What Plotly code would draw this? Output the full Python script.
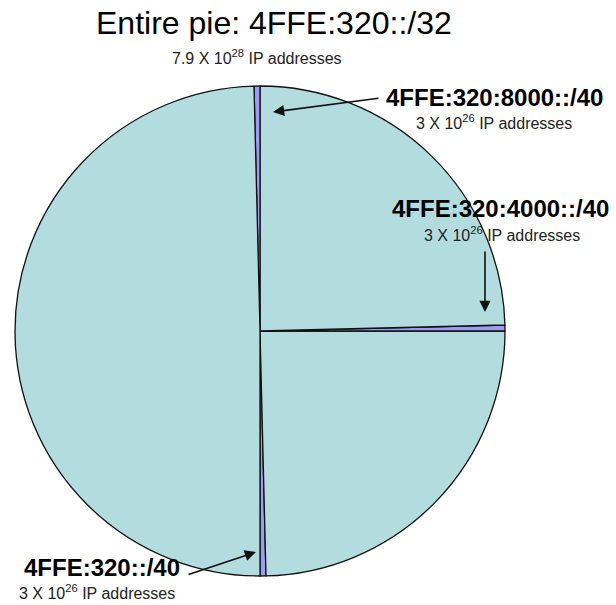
import plotly.graph_objects as go

W, H = 616, 605

# Data: /32 split into 256 /40 blocks, three highlighted /40s
labels = ["4FFE:320::/40", "rest A", "4FFE:320:4000::/40", "rest B", "4FFE:320:8000::/40", "rest C"]
values = [1, 63, 1, 63, 1, 127]
slice_colors = ["#9C9CF4", "#B3DCDE", "#9C9CF4", "#B3DCDE", "#9C9CF4", "#B3DCDE"]

title_text = "Entire pie: 4FFE:320::/32"
title_sub = "7.9 X 10<sup>28</sup> IP addresses"
callout_names = ["4FFE:320:8000::/40", "4FFE:320:4000::/40", "4FFE:320::/40"]
callout_subs = ["3 X 10<sup>26</sup> IP addresses"] * 3


def px(x, y):
    return x / W, 1 - y / H


cx, cy, r = 260, 331, 245
x0, y0 = px(cx - r, cy + r)
x1, y1 = px(cx + r, cy - r)

fig = go.Figure(go.Pie(
    labels=labels, values=values, sort=False, direction="counterclockwise",
    rotation=180 - 360 * values[0] / sum(values), textinfo="none", hoverinfo="label",
    marker=dict(colors=slice_colors, line=dict(color="#111111", width=1.3)),
    domain=dict(x=[x0, x1], y=[y0, y1]), showlegend=False,
))

ann = []


def text(x, y, t, size, bold=False, color="#000000"):
    X, Y = px(x, y)
    ann.append(dict(x=X, y=Y, xref="paper", yref="paper", text=f"<b>{t}</b>" if bold else t,
                    showarrow=False, xanchor="center", yanchor="middle",
                    font=dict(family="Liberation Sans, Arial", size=size, color=color)))


def arrow(hx, hy, tx, ty):
    X, Y = px(hx, hy)
    ann.append(dict(x=X, y=Y, xref="paper", yref="paper", text="", showarrow=True,
                    ax=tx - hx, ay=ty - hy, axref="pixel", ayref="pixel",
                    arrowhead=2, arrowsize=1.4, arrowwidth=1.6, arrowcolor="#111111"))


text(274, 23, title_text, 32)
text(257, 57, title_sub, 16, color="#222222")

text(494, 97, callout_names[0], 24, bold=True)
text(494, 122, callout_subs[0], 16, color="#222222")
text(500, 208, callout_names[1], 24, bold=True)
text(502, 234, callout_subs[1], 16, color="#222222")
text(102, 567, callout_names[2], 24, bold=True)
text(97, 592, callout_subs[2], 16, color="#222222")

arrow(273, 112, 380, 98)
arrow(485, 312, 485, 250)
arrow(256, 552, 187, 575)

fig.update_layout(width=W, height=H, margin=dict(l=0, r=0, t=0, b=0),
                  paper_bgcolor="white", plot_bgcolor="white", annotations=ann)
fig.write_html("out.html")
